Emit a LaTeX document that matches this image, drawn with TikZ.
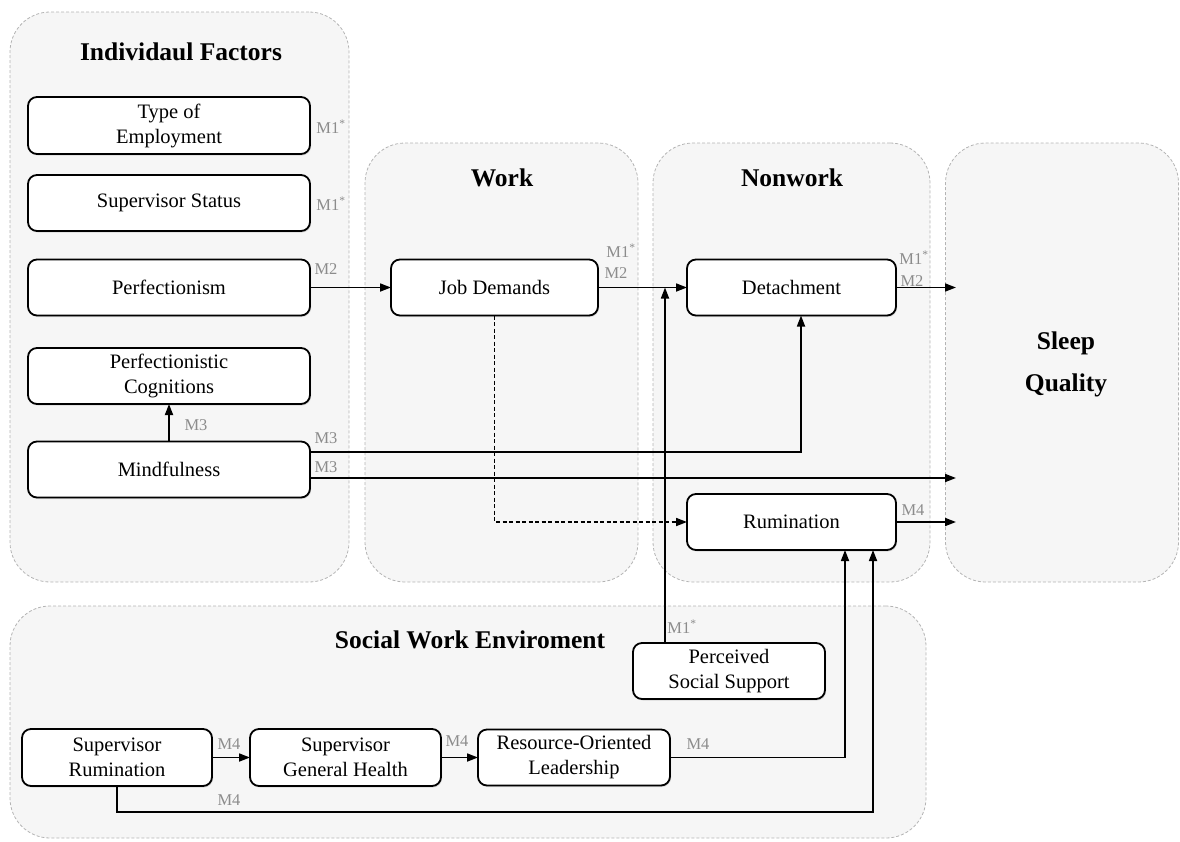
\documentclass[tikz,border=0pt]{standalone}
\usepackage{fontspec}
\setmainfont{Liberation Serif}
\usetikzlibrary{arrows.meta,calc,shadows}
\definecolor{panelfill}{HTML}{F6F6F6}
\definecolor{panelline}{HTML}{B4B4B4}
\definecolor{lblgray}{HTML}{8C8C8C}
\begin{document}
\begin{tikzpicture}[x=1pt,y=-1pt,
  panel/.style={draw=panelline, dash pattern=on 3pt off 2pt, fill=panelfill, rounded corners=40pt, line width=0.8pt, inner sep=0pt, outer sep=0pt},
  box/.style={draw=black, fill=white, rounded corners=9pt, line width=1.8pt, align=center, inner sep=2pt, outer sep=0pt,
    font=\fontsize{20.5}{25}\selectfont, drop shadow={shadow xshift=1pt, shadow yshift=-1.5pt, opacity=0.25}},
  ttl/.style={font=\fontsize{25.5}{30}\selectfont\bfseries, inner sep=0pt},
  lbl/.style={text=lblgray, font=\fontsize{16.5}{18}\selectfont, inner sep=0pt},
  arr/.style={draw=black, line width=1.7pt, -{Triangle[length=11pt,width=8pt]}},
  ln/.style={draw=black, line width=1.7pt}
]
\useasboundingbox (0,0) rectangle (1180,841);
% panels
\node[panel, minimum width=339pt, minimum height=570pt] (indiv) at (179.5,297) {};
\node[panel, minimum width=273pt, minimum height=439pt] (work) at (501.5,362.5) {};
\node[panel, minimum width=277pt, minimum height=439pt] (nonwork) at (791.5,362.5) {};
\node[panel, minimum width=233pt, minimum height=439pt] (sleep) at (1062,362.5) {};
\node[panel, minimum width=916pt, minimum height=232pt] (social) at (468,722) {};
% titles
\node[ttl] (tindiv) at (181,52) {Individaul Factors};
\node[ttl] (twork) at (502,178) {Work};
\node[ttl] (tnon) at (792,178) {Nonwork};
\node[ttl] (tsleep1) at (1066,343) {Sleep};
\node[ttl] (tsleep2) at (1066,385) {Quality};
\node[ttl] (tsocial) at (470,640) {Social Work Enviroment};
% boxes
\node[box, minimum width=282pt, minimum height=57pt] (TE) at (169,125.5) {Type of\\Employment};
\node[box, minimum width=282pt, minimum height=56pt] (SS) at (169,203) {Supervisor Status};
\node[box, minimum width=282pt, minimum height=56pt] (PF) at (169,287.5) {Perfectionism};
\node[box, minimum width=282pt, minimum height=56pt] (PC) at (169,376) {Perfectionistic\\Cognitions};
\node[box, minimum width=282pt, minimum height=56pt] (MF) at (169,469.5) {Mindfulness};
\node[box, minimum width=207pt, minimum height=56pt] (JD) at (494.5,287.5) {Job Demands};
\node[box, minimum width=209pt, minimum height=56pt] (DT) at (791.5,287.5) {Detachment};
\node[box, minimum width=209pt, minimum height=56pt] (RU) at (791.5,522) {Rumination};
\node[box, minimum width=190pt, minimum height=57pt] (SR) at (117,757.5) {Supervisor\\Rumination};
\node[box, minimum width=191pt, minimum height=57pt] (SGH) at (345.5,757.5) {Supervisor\\General Health};
\node[box, minimum width=192pt, minimum height=56pt] (ROL) at (574,757.5) {Resource-Oriented\\Leadership};
\node[box, minimum width=192pt, minimum height=56pt] (PSS) at (729,671) {Perceived\\Social Support};
% helper coordinates
\coordinate (sq) at (956,0);
\coordinate (ps) at (665,0);
\coordinate (mf1) at ($(MF.east)+(0,-17.5)$);
\coordinate (mf2) at ($(MF.east)+(0,8.5)$);
\coordinate (bot) at (873,812);
% connectors
\draw[arr] (PF.east) -- (JD.west);
\draw[arr] (JD.east) -- (DT.west);
\draw[arr] (ps |- PSS.north) -- (ps |- JD.east);
\draw[arr] (DT.east) -- (sq |- DT.east);
\draw[arr] (MF.north) -- (PC.south);
\draw[arr] (mf1) -| ($(DT.south)+(9.5,0)$);
\draw[arr] (mf2) -- (sq |- mf2);
\draw[arr, dash pattern=on 4pt off 2.5pt] (JD.south) |- (RU.west);
\draw[arr] (RU.east) -- (sq |- RU.east);
\draw[arr] (SR.east) -- (SGH.west);
\draw[arr] (SGH.east) -- (ROL.west);
\draw[arr] (ROL.east) -| ($(RU.south)+(53.5,0)$);
\draw[arr] (SR.south) |- (bot) -- ($(RU.south)+(81.5,0)$);
% labels
\node[lbl] (l1) at (331,127) {M1\textsuperscript{*}};
\node[lbl] (l2) at (331,204) {M1\textsuperscript{*}};
\node[lbl] (l3) at (326,269) {M2};
\node[lbl] (l4) at (621,251) {M1\textsuperscript{*}};
\node[lbl] (l5) at (616,273) {M2};
\node[lbl] (l6) at (914,258) {M1\textsuperscript{*}};
\node[lbl] (l7) at (912,281) {M2};
\node[lbl] (l8) at (196,425) {M3};
\node[lbl] (l9) at (326,438) {M3};
\node[lbl] (l10) at (326,467) {M3};
\node[lbl] (l11) at (913,510) {M4};
\node[lbl] (l12) at (682,627) {M1\textsuperscript{*}};
\node[lbl] (l13) at (229,744) {M4};
\node[lbl] (l14) at (229,800) {M4};
\node[lbl] (l15) at (457,741) {M4};
\node[lbl] (l16) at (698,744) {M4};
\end{tikzpicture}
\end{document}
